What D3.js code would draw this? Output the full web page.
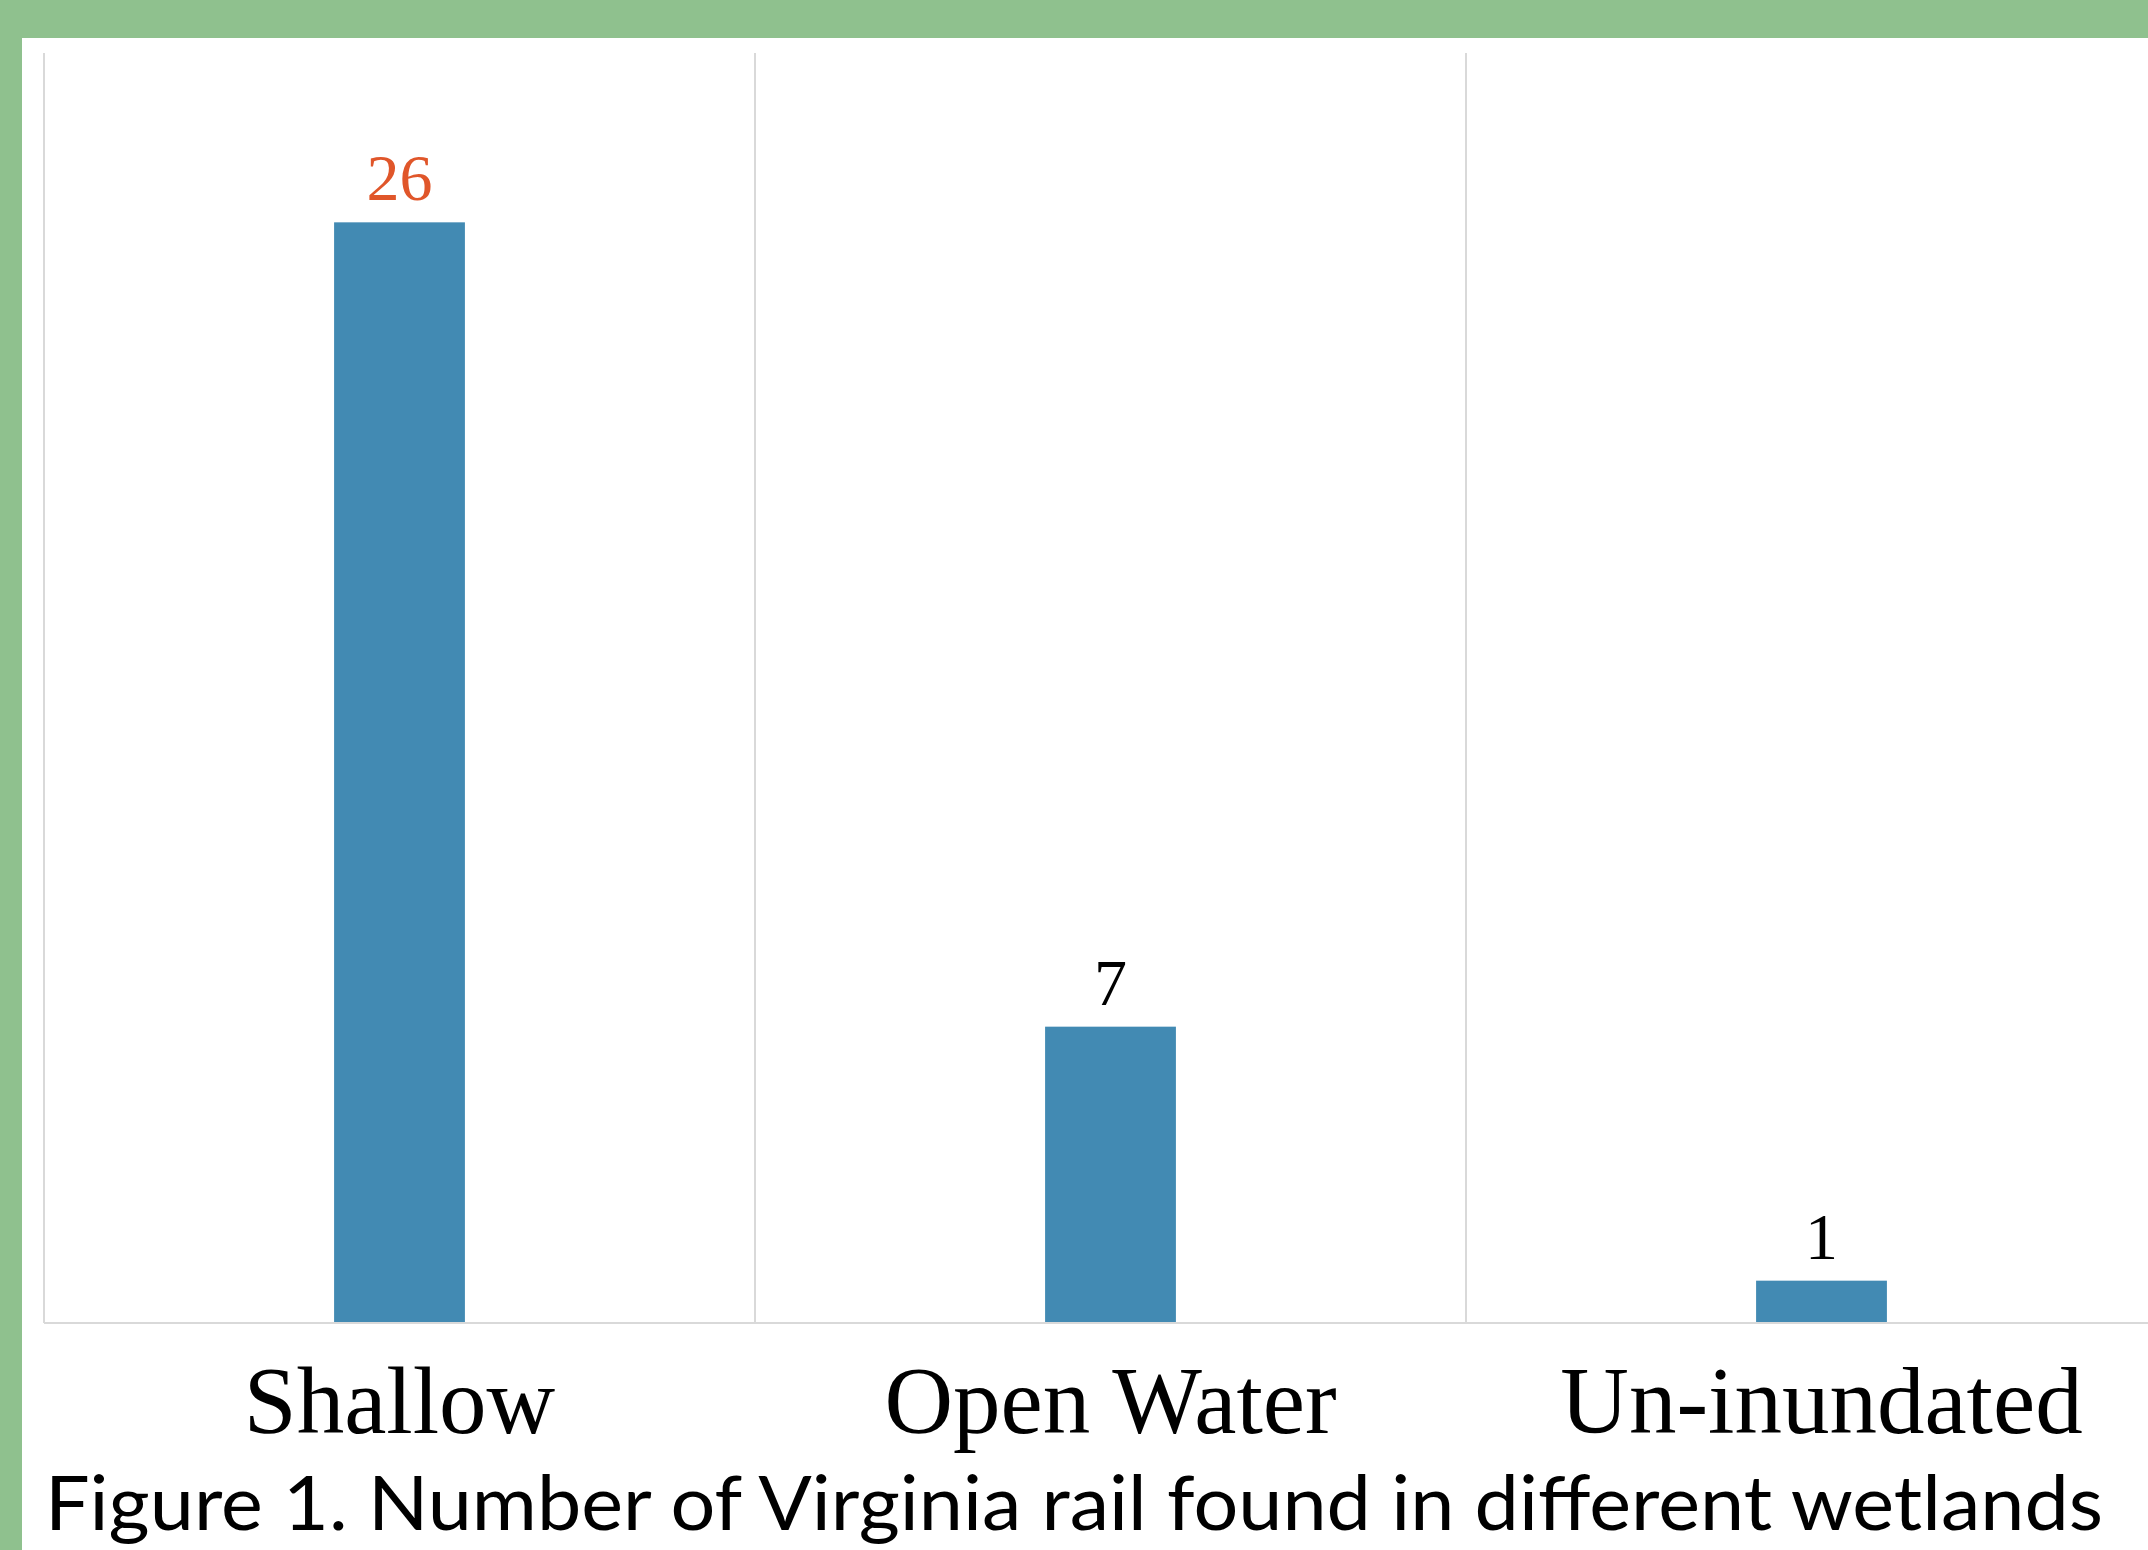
<!DOCTYPE html>
<html>
<head>
<meta charset="utf-8">
<script src="https://cdn.jsdelivr.net/npm/d3@7"></script>
<style>
  html, body { margin: 0; padding: 0; background: #fff; }
  svg { display: block; }
</style>
</head>
<body>
<script>
const width = 2148;
const height = 1550;

const categories = ["Shallow", "Open Water", "Un-inundated"];
const counts = [26, 7, 1];
const labelColors = ["#e0562a", "#000", "#000"];
const captionText = "Figure 1. Number of Virginia rail found in different wetlands";

const svg = d3.select("body").append("svg")
	.attr("width", width)
	.attr("height", height);

// green frame
svg.append("rect").attr("x", 0).attr("y", 0).attr("width", width).attr("height", 38).attr("fill", "#8fc18e");
svg.append("rect").attr("x", 0).attr("y", 0).attr("width", 22).attr("height", height).attr("fill", "#8fc18e");

const plotLeft = 44;
const bandW = 711;

const x = d3.scaleBand()
	.domain(categories)
	.range([plotLeft, plotLeft + bandW * categories.length])
	.padding(0);

const y = d3.scaleLinear()
	.domain([0, 30])
	.range([1323, 53]);

const barW = x.bandwidth() * 0.184;

// vertical gridlines at band boundaries
svg.append("g")
	.selectAll("line")
	.data(categories)
	.join("line")
	.attr("x1", d => x(d))
	.attr("x2", d => x(d))
	.attr("y1", y(30))
	.attr("y2", y(0))
	.attr("stroke", "#d9d9d9")
	.attr("stroke-width", 2);

// bars
svg.append("g")
	.selectAll("rect")
	.data(categories)
	.join("rect")
	.attr("x", d => x(d) + x.bandwidth() / 2 - barW / 2)
	.attr("width", barW)
	.attr("y", (d, i) => y(counts[i]))
	.attr("height", (d, i) => y(0) - y(counts[i]))
	.attr("fill", "#428ab3");

// baseline
svg.append("line")
	.attr("x1", plotLeft)
	.attr("x2", width)
	.attr("y1", y(0))
	.attr("y2", y(0))
	.attr("stroke", "#d9d9d9")
	.attr("stroke-width", 2);

// value labels
svg.append("g")
	.selectAll("text")
	.data(categories)
	.join("text")
	.attr("x", d => x(d) + x.bandwidth() / 2)
	.attr("y", (d, i) => y(counts[i]) - 22)
	.attr("text-anchor", "middle")
	.attr("font-family", "'Liberation Serif', 'Times New Roman', serif")
	.attr("font-size", 66)
	.attr("fill", (d, i) => labelColors[i])
	.text((d, i) => counts[i]);

// category axis
const xAxis = svg.append("g")
	.attr("transform", `translate(0,${y(0)})`)
	.call(d3.axisBottom(x).tickSize(0).tickPadding(0));
xAxis.select(".domain").remove();
xAxis.selectAll("text")
	.attr("y", 110)
	.attr("dy", 0)
	.attr("font-family", "'Liberation Serif', 'Times New Roman', serif")
	.attr("font-size", 95)
	.attr("fill", "#000");

// caption
svg.append("text")
	.attr("x", 45)
	.attr("y", 1530)
	.attr("font-family", "Lato, 'Open Sans', sans-serif")
	.attr("font-size", 76)
	.attr("textLength", 2058)
	.attr("lengthAdjust", "spacingAndGlyphs")
	.attr("fill", "#000")
	.text(captionText);
</script>
</body>
</html>
